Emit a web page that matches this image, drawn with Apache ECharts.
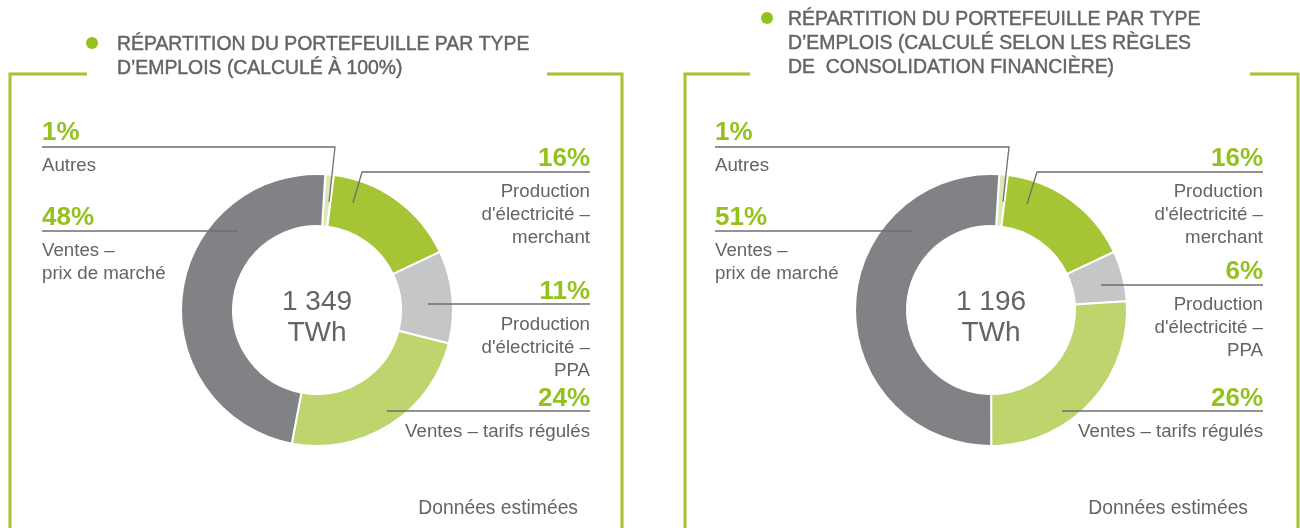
<!DOCTYPE html>
<html>
<head>
<meta charset="utf-8">
<script src="https://cdn.jsdelivr.net/npm/echarts@6/dist/echarts.min.js"></script>
<style>
  html, body { margin: 0; padding: 0; background: #fff; }
  #main { width: 1300px; height: 528px; }
</style>
</head>
<body>
<div id="main"></div>
<script>
// données
const categories = [
  'Autres',
  "Production\nd'électricité –\nmerchant",
  "Production\nd'électricité –\nPPA",
  'Ventes – tarifs régulés',
  'Ventes –\nprix de marché'
];
const shares100 = [1, 16, 11, 24, 48];   // calculé à 100%
const sharesConso = [1, 16, 6, 26, 51];  // règles de consolidation financière
const totals = ['1 349', '1 196'];
const unit = 'TWh';
const titles = [
  "RÉPARTITION DU PORTEFEUILLE PAR TYPE\nD’EMPLOIS (CALCULÉ À 100%)",
  "RÉPARTITION DU PORTEFEUILLE PAR TYPE\nD’EMPLOIS (CALCULÉ SELON LES RÈGLES\nDE  CONSOLIDATION FINANCIÈRE)"
];
const note = 'Données estimées';

// couleurs
const sliceColors = ['#dde8b5', '#a5c534', '#c5c6c8', '#bed46c', '#818285'];
const green = '#95c11f';
const frameGreen = '#a2c42c';
const textGrey = '#636466';
const lineGrey = '#6d6e70';
const FONT = "'Liberation Sans', Arial, sans-serif";

// mise en page des étiquettes : x texte, y centre du %, alignement, y trait, point d'ancrage, coude
const labelLayouts = [
  [
    { x: 42, py: 131, align: 'left', ly: 147, ax: 329, ay: 202, ex: 335 },
    { x: 590, py: 157, align: 'right', ly: 172, ax: 353, ay: 203, ex: 362 },
    { x: 590, py: 290, align: 'right', ly: 304, ax: 428, ay: 304, ex: 428 },
    { x: 590, py: 397, align: 'right', ly: 411, ax: 387, ay: 411, ex: 387 },
    { x: 42, py: 216, align: 'left', ly: 231, ax: 238, ay: 231, ex: 238 }
  ],
  [
    { x: 715, py: 131, align: 'left', ly: 147, ax: 1003, ay: 202, ex: 1009 },
    { x: 1263, py: 157, align: 'right', ly: 172, ax: 1027, ay: 204, ex: 1037 },
    { x: 1263, py: 270, align: 'right', ly: 285, ax: 1101, ay: 285, ex: 1101 },
    { x: 1263, py: 397, align: 'right', ly: 411, ax: 1062, ay: 411, ex: 1062 },
    { x: 715, py: 216, align: 'left', ly: 231, ax: 912, ay: 231, ex: 912 }
  ]
];
const centers = [[317, 310], [991, 310]];

// anneau coloré (sans étiquette)
function ringSeries(values, idx) {
  return {
    type: 'pie',
    silent: true,
    z: 2,
    center: centers[idx],
    radius: [84, 136],
    startAngle: 86.5,
    clockwise: true,
    itemStyle: { borderColor: '#fff', borderWidth: 2 },
    emphasis: { disabled: true },
    label: { show: false },
    labelLine: { show: false },
    data: values.map(function (v, i) {
      return { name: categories[i], value: v, itemStyle: { color: sliceColors[i] } };
    })
  };
}

// même anneau, transparent, au-dessus : porte les étiquettes et les traits de rappel
function labelSeries(values, idx) {
  return {
    type: 'pie',
    silent: true,
    z: 4,
    center: centers[idx],
    radius: [84, 136],
    startAngle: 86.5,
    clockwise: true,
    avoidLabelOverlap: false,
    itemStyle: { color: 'rgba(0,0,0,0)', borderWidth: 0 },
    emphasis: { disabled: true },
    label: {
      show: true,
      position: 'outside',
      overflow: 'none',
      fontFamily: FONT,
      formatter: function (p) {
        return '{p|' + p.value + '%}\n{d|' + p.name + '}';
      },
      rich: {
        p: { fontFamily: FONT, fontSize: 26, fontWeight: 'bold', color: green, lineHeight: 42 },
        d: { fontFamily: FONT, fontSize: 18.7, color: textGrey, lineHeight: 23 }
      }
    },
    labelLine: { show: true, smooth: false, lineStyle: { color: lineGrey, width: 1.3 } },
    labelLayout: function (params) {
      const L = labelLayouts[idx][params.dataIndex];
      return {
        x: L.x,
        y: L.py - 19,
        align: L.align,
        verticalAlign: 'top',
        labelLinePoints: [[L.ax, L.ay], [L.ex, L.ly], [L.x, L.ly]]
      };
    },
    data: values.map(function (v, i) {
      return { name: categories[i], value: v };
    })
  };
}

// cadres, titres, textes centraux
const graphics = [];
const frames = [
  { l: 10, r: 622, gl: 87, gr: 547 },
  { l: 685, r: 1298, gl: 750, gr: 1250 }
];
frames.forEach(function (f) {
  graphics.push({
    type: 'polyline', silent: true,
    shape: { points: [[f.gl, 74], [f.l, 74], [f.l, 540]] },
    style: { stroke: frameGreen, lineWidth: 3, fill: null }
  });
  graphics.push({
    type: 'polyline', silent: true,
    shape: { points: [[f.gr, 74], [f.r, 74], [f.r, 540]] },
    style: { stroke: frameGreen, lineWidth: 3, fill: null }
  });
});
const titlePos = [{ bx: 92, by: 43, tx: 117 }, { bx: 767, by: 18, tx: 788 }];
titlePos.forEach(function (t, i) {
  graphics.push({ type: 'circle', silent: true, shape: { cx: t.bx, cy: t.by, r: 6 }, style: { fill: green } });
  graphics.push({
    type: 'text', silent: true, x: t.tx, y: t.by - 10,
    style: {
      text: titles[i], font: '19.4px ' + FONT, fill: textGrey,
      stroke: textGrey, lineWidth: 0.45, lineHeight: 24, textVerticalAlign: 'top'
    }
  });
});
centers.forEach(function (c, i) {
  graphics.push({
    type: 'text', silent: true, x: c[0], y: c[1] + 8,
    style: {
      text: totals[i] + '\n' + unit, font: '28px ' + FONT, fill: textGrey,
      lineHeight: 31, align: 'center', verticalAlign: 'middle'
    }
  });
});
[578, 1248].forEach(function (x) {
  graphics.push({
    type: 'text', silent: true, x: x, y: 509,
    style: { text: note, font: '19.3px ' + FONT, fill: textGrey, align: 'right', verticalAlign: 'middle' }
  });
});

const chart = echarts.init(document.getElementById('main'));
chart.setOption({
  animation: false,
  backgroundColor: '#fff',
  series: [
    ringSeries(shares100, 0), ringSeries(sharesConso, 1),
    labelSeries(shares100, 0), labelSeries(sharesConso, 1)
  ],
  graphic: graphics
});
</script>
</body>
</html>
